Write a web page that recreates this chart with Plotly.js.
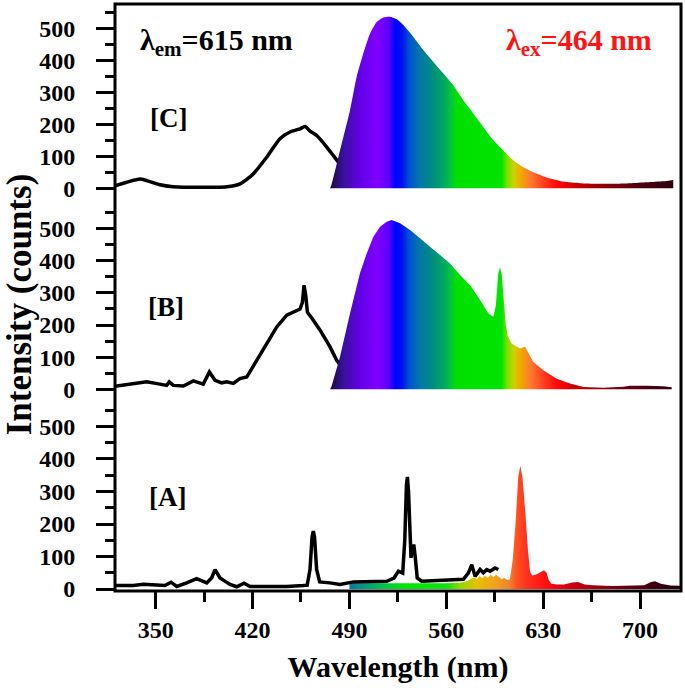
<!DOCTYPE html>
<html><head><meta charset="utf-8">
<script src="https://cdn.plot.ly/plotly-3.0.1.min.js"></script>
<style>
html,body{margin:0;padding:0;background:#fff}
#chart{width:685px;height:691px}
#chart svg text{font-family:"Liberation Serif","DejaVu Serif","Noto Serif",serif !important;}
</style>
</head><body><div id="chart"></div>
<script>
// ---------- Panel C (top) ----------
const wlExcC  = [320.6,329,338.7,343.5,353,362.5,382,401.3,411,420.5,430.2,439.8,447,454.3,457.9,461.5,466.4,473.6,478.4,483.2,488];
const intExcC = [8,19,29,24,11,5,3,5,14,45,97,155,176,186,193,179,165,129,102,76,55];
const wlEmC   = [476,477,483.2,490.4,495.2,500,504.9,509.7,514.5,519.3,524.2,529,536.2,543.4,550.6,557.9,565.1,572.3,579.6,586.8,594,601.2,608.5,615.7,622.9,632.6,644.6,656.7,668.7,680.7,692.8,704.9,716.9,724];
const intEmC  = [0,10,118,243,348,421,484,520,534,536,528,510,473,432,395,359,322,275,233,191,150,118,87,66,50,34,21,16,14,14,16,19,22,26];

// ---------- Panel B (middle) ----------
const wlExcB  = [320.6,333.8,343.5,353.1,357.9,359.8,362.7,370,377.2,384.4,388.8,392.9,397.7,401.3,406.1,410.9,415.8,423,430.2,437.5,444.7,449.5,454.3,456,457.2,458.5,459.6,462.8,468.8,476,480.8,486];
const intExcB = [9,18,23,16,12,23,12,10,26,16,54,28,20,23,18,33,38,90,142,194,231,241,250,270,324,290,240,222,184,132,90,60];
const wlEmB   = [476,477,483.2,490.4,497.6,502.5,507.3,512.1,516.9,520.5,526.6,533.8,541,548.2,555.5,562.7,569.9,577.2,584.4,590.4,594,595.8,597.5,598.8,600,601.5,603,604.5,607.3,613.3,616.9,622.9,630.2,639.8,649.4,659.1,673.5,688,692.8,704.9,716.9,722.9];
const intEmB  = [0,8,101,236,361,423,475,506,522,527,517,496,470,444,418,392,356,324,278,236,226,260,360,380,360,280,200,165,142,127,132,85,59,33,18,7,5,8,11,11,9,6];

// ---------- Panel A (bottom) ----------
const wlExcA  = [320.6,333.8,341,350.7,356.7,361.1,365.2,372.4,379.6,386.9,390.5,392.9,396.5,400.8,403.7,408.6,413.8,418.2,430.2,444.7,456.7,459.5,461.5,463,463.9,464.8,466.3,468.5,475.9,483.2,492.8,504.9,516.9,522.2,525.4,528.5,530,531.2,531.9,532.7,533.7,534.5,535.5,536.5,537.5,539,542.3,550.6,560.3,567.5,572.3,575.9,578.4,580.8,584.4,586.8,589.2,591.6,595.2,597.6];
const intExcA = [11,11,15,11,11,21,8,19,32,19,35,60,34,22,14,7,18,8,8,8,11,12,60,160,178,160,60,22,19,14,22,22,24,34,55,49,150,320,345,300,130,96,125,137,100,34,24,26,28,30,30,49,75,39,60,50,60,55,65,60];
const wlEmA   = [490,500,520,540,560,570,575,578,580,582,584,586,588,590,592,594,596,598,600,602,604,606,608,610,612,613.5,615,617,619,620.5,622,625,628,630.5,632.5,634,636,640,645,651,655,660,666,680,695,703,708,711,715,722,729];
const intEmA  = [18,18,18,18,18,19,24,32,36,30,40,33,42,34,44,36,45,38,30,34,28,30,90,200,345,379,345,240,120,55,42,45,52,58,50,28,16,14,14,20,22,14,12,9,11,12,22,24,16,11,10];

// ---------- tick labels ----------
const xTicks = [350,420,490,560,630,700];
const yTicks = [0,100,200,300,400,500];

// spectral colour stops (wavelength, colour)
const gradStopsBC = [[476,'#1c0a3c'],[486,'#3a10a0'],[498,'#6400e8'],[510,'#8000ff'],[518,'#6000ff'],[523,'#0000ff'],[528,'#0010f0'],[533,'#0050d0'],[541,'#0078a8'],[550,'#008c80'],[558,'#00a860'],[564,'#00c838'],[567,'#00e000'],[600,'#00e400'],[604,'#7ce000'],[609,'#d0d000'],[614,'#f0a800'],[621,'#ff7830'],[630,'#ff4020'],[640,'#ff0808'],[655,'#c80000'],[675,'#8a0008'],[700,'#500010'],[725,'#2a0010']];
const gradStopsA  = [[490,'#0a78a0'],[505,'#00a870'],[520,'#00d030'],[530,'#00e800'],[560,'#10e010'],[570,'#90d800'],[582,'#e8c000'],[596,'#f0a020'],[606,'#f08030'],[611,'#ff5020'],[618,'#ff3020'],[632,'#ff1010'],[644,'#e00010'],[668,'#a00010'],[693,'#600010'],[717,'#300010'],[729,'#200010']];

function grad(stops){
  const a = stops[0][0], b = stops[stops.length-1][0];
  return {type:'horizontal', start:a, stop:b,
          colorscale: stops.map(s => [(s[0]-a)/(b-a), s[1]])};
}

const FONT = '"Liberation Serif", "DejaVu Serif", serif';
const smoothLine = {color:'#000', width:3.5, shape:'spline', smoothing:0.6};
const sharpLine  = {color:'#000', width:3.5};

const traces = [
  // panel C
  {x:wlExcC, y:intExcC, xaxis:'x', yaxis:'y3', mode:'lines', line:smoothLine, hoverinfo:'skip'},
  {x:wlEmC, y:intEmC, xaxis:'x', yaxis:'y3', mode:'lines', line:{width:0, shape:'spline', smoothing:0.5}, fill:'tozeroy', fillgradient:grad(gradStopsBC), hoverinfo:'skip'},
  // panel B
  {x:wlExcB, y:intExcB, xaxis:'x', yaxis:'y2', mode:'lines', line:sharpLine, hoverinfo:'skip'},
  {x:wlEmB, y:intEmB, xaxis:'x', yaxis:'y2', mode:'none', fill:'tozeroy', fillgradient:grad(gradStopsBC), hoverinfo:'skip'},
  // panel A
  {x:wlEmA, y:intEmA, xaxis:'x', yaxis:'y', mode:'none', fill:'tozeroy', fillgradient:grad(gradStopsA), hoverinfo:'skip'},
  {x:wlExcA, y:intExcA, xaxis:'x', yaxis:'y', mode:'lines', line:sharpLine, hoverinfo:'skip'}
];

const yBase = {
  tickvals: yTicks, ticktext: yTicks.map(String),
  ticks:'outside', ticklen:18, tickwidth:3, tickcolor:'#000', ticklabelstandoff:16,
  minor:{dtick:50, tick0:0, ticks:'outside', ticklen:9, tickwidth:3, tickcolor:'#000'},
  showgrid:false, zeroline:false, showline:false, anchor:'x',
  tickfont:{family:FONT, size:24, color:'#000', weight:'bold'},
  fixedrange:true
};

const layout = {
  width:685, height:691,
  margin:{l:115, r:4, t:4, b:100},
  paper_bgcolor:'#fff', plot_bgcolor:'#fff',
  showlegend:false,
  font:{family:FONT, color:'#000', weight:'bold'},
  xaxis:{
    range:[320.6,729.6], tickvals:xTicks, ticktext:xTicks.map(String),
    ticks:'outside', ticklen:17, tickwidth:3, tickcolor:'#000',
    minor:{dtick:35, tick0:350, ticks:'outside', ticklen:10, tickwidth:3, tickcolor:'#000'},
    showgrid:false, zeroline:false, showline:false, anchor:'y',
    tickfont:{family:FONT, size:24, color:'#000', weight:'bold'},
    title:{text:'Wavelength (nm)', font:{family:FONT, size:30, color:'#000', weight:'bold'}, standoff:14},
    fixedrange:true
  },
  yaxis:  Object.assign({}, yBase, {domain:[0,0.3169], range:[-6,566]}),
  yaxis2: Object.assign({}, yBase, {domain:[0.3169,0.6593], range:[-49,577],
           title:{text:'Intensity (counts)', font:{family:FONT, size:35, color:'#000', weight:'bold'}, standoff:4}}),
  yaxis3: Object.assign({}, yBase, {domain:[0.6593,1], range:[-49,576]}),
  shapes:[{type:'rect', xref:'paper', yref:'paper', x0:0, x1:1, y0:0, y1:1, line:{color:'#000', width:3}, layer:'above'}],
  annotations:[
    {xref:'paper', yref:'paper', x:0.18, y:0.935, xanchor:'center', yanchor:'middle', text:'λ<sub>em</sub>=615 nm', showarrow:false, font:{family:FONT, size:30, color:'#000', weight:'bold'}},
    {xref:'paper', yref:'paper', x:0.82, y:0.935, xanchor:'center', yanchor:'middle', text:'λ<sub>ex</sub>=464 nm', showarrow:false, font:{family:FONT, size:30, color:'#ff1414', weight:'bold'}},
    {xref:'paper', yref:'paper', x:0.094, y:0.806, xanchor:'center', yanchor:'middle', text:'[C]', showarrow:false, font:{family:FONT, size:27, color:'#000', weight:'bold'}},
    {xref:'paper', yref:'paper', x:0.090, y:0.484, xanchor:'center', yanchor:'middle', text:'[B]', showarrow:false, font:{family:FONT, size:27, color:'#000', weight:'bold'}},
    {xref:'paper', yref:'paper', x:0.092, y:0.160, xanchor:'center', yanchor:'middle', text:'[A]', showarrow:false, font:{family:FONT, size:27, color:'#000', weight:'bold'}}
  ]
};

Plotly.newPlot('chart', traces, layout, {displayModeBar:false, staticPlot:true});
</script>
</body></html>
